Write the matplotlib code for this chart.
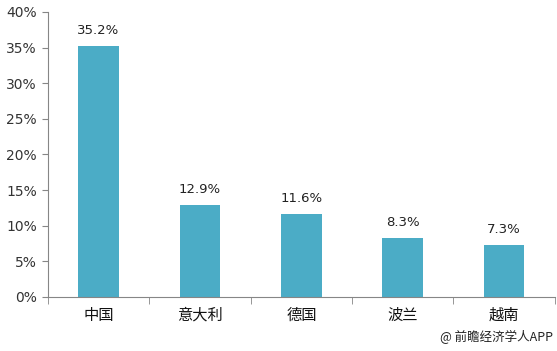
import matplotlib.pyplot as plt
from matplotlib.ticker import FuncFormatter, FixedLocator

plt.rcParams['font.family'] = ['Noto Sans CJK SC', 'DejaVu Sans']

# data
countries = ['中国', '意大利', '德国', '波兰', '越南']
shares = [35.2, 12.9, 11.6, 8.3, 7.3]
value_labels = ['35.2%', '12.9%', '11.6%', '8.3%', '7.3%']

fig = plt.figure(figsize=(5.57, 3.51), dpi=100)
ax = fig.add_axes([0.086, 0.154, 0.91, 0.812])

x = list(range(len(countries)))
ax.bar(x, shares, width=0.4, color='#4BACC6')

for xi, v, lab in zip(x, shares, value_labels):
    ax.text(xi, v + 1.3, lab, ha='center', va='bottom', fontsize=9.5,
            color='#222222', family='DejaVu Sans')

ax.set_xlim(-0.5, len(countries) - 0.5)
ax.set_ylim(0, 40)
ax.set_yticks(range(0, 41, 5))
ax.yaxis.set_major_formatter(FuncFormatter(lambda v, p: f'{int(v)}%'))
for lab in ax.get_yticklabels():
    lab.set_family('DejaVu Sans')

# category labels centred, ticks at boundaries
ax.set_xticks(x)
ax.set_xticklabels(countries, fontsize=11, color='#111111')
ax.tick_params(axis='x', length=0, pad=7)
ax.xaxis.set_minor_locator(FixedLocator([i - 0.5 for i in range(len(countries) + 1)]))
ax.tick_params(axis='x', which='minor', length=5, color='#868686')
ax.tick_params(axis='y', length=4, color='#868686', labelsize=10, labelcolor='#333333', pad=4)

for side in ['top', 'right']:
    ax.spines[side].set_visible(False)
for side in ['left', 'bottom']:
    ax.spines[side].set_color('#868686')

fig.text(0.993, 0.02, '@ 前瞻经济学人APP', ha='right', va='bottom', fontsize=9, color='#222222')

fig.savefig('out.png', dpi=100)
